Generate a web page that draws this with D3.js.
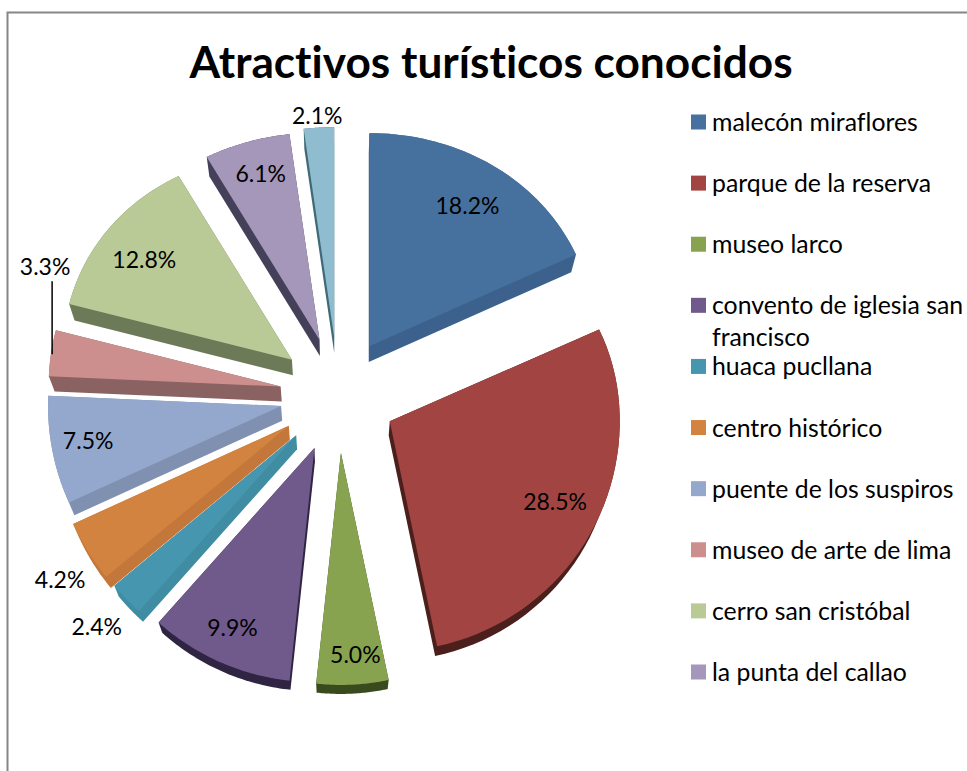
<!DOCTYPE html>
<html>
<head>
<meta charset="utf-8">
<script src="https://cdn.jsdelivr.net/npm/d3@7"></script>
<style>
  html, body { margin: 0; padding: 0; background: #fff; }
  svg { display: block; }
  text { font-family: Lato, "Open Sans", sans-serif; fill: #000; font-variant-ligatures: none; }
</style>
</head>
<body>
<div id="graph"></div>
<script>
// chart data
var categories = ["malecón miraflores", "parque de la reserva", "museo larco", "convento de iglesia san|francisco",
  "huaca pucllana", "centro histórico", "puente de los suspiros", "museo de arte de lima",
  "cerro san cristóbal", "la punta del callao"];
var values = [18.2, 28.5, 5.0, 9.9, 2.4, 4.2, 7.5, 3.3, 12.8, 6.1, 2.1];

var colors = ["#46719f", "#a24542", "#87a34f", "#705a8c", "#4596ae", "#d2833f", "#93a8cc", "#cc8f8d", "#b9ca96", "#a597b9", "#8fbccf"];
var walls  = ["#3c618c", "#4a1f1c", "#3a4a1f", "#2f2442", "#3f8ca3", "#c4773a", "#8090b0", "#8b6262", "#6d7a57", "#45405a", "#3f6a78"];

// the 3d pie is not a true circle, so each slice has its own size and back tilt
var radii = [227, 230, 232, 234, 236, 237, 233, 232, 230, 229, 232];
var tilts = [0.00027, 0.00041, 0.00041, 0.00041, 0.00041, 0.00041, 0.00041, 0.00041, 0.00041, 0.00041, 0.00041];

// distance of each label from the slice tip, and how far it is turned off the slice middle
var labelRadius = [171, 184, 203, 198, 277, 276, 196, 264, 178, 176, 222];
var labelTurn   = [2.25, -0.8, -1.2, 0.5, 0, -2, 0.8, 18.4, -3.5, -1, -0.6];

var width = 967, height = 771;
var cx = 338, cy = 395, explode = 58;

var svg = d3.select("#graph")
  .append("svg")
    .attr("width", width)
    .attr("height", height);

// chart frame, cut by the picture on the right and at the bottom
svg.append("path")
    .attr("d", "M7.5," + height + "V12.5H" + width)
    .attr("fill", "none")
    .attr("stroke", "#868686")
    .attr("stroke-width", 2);

svg.append("text")
    .attr("x", 491)
    .attr("y", 78)
    .attr("text-anchor", "middle")
    .attr("font-size", 44.2)
    .attr("font-weight", 700)
    .text("Atractivos turísticos conocidos");

var arcs = d3.pie().sort(null).value(function(d) { return d; })(values);

// the lower face shrinks towards a point far below the pie
function lower(p) {
  return [cx + (p[0] - cx) * 0.98, 1135 + (p[1] - 1135) * 0.98];
}

function outline(d, i) {
  var mid = (d.startAngle + d.endAngle) / 2;
  var tip = d3.pointRadial(mid, explode);
  var top = [[cx + tip[0], cy + tip[1]]];
  d3.range(0, 41).forEach(function(k) {
    var a = d.startAngle + (d.endAngle - d.startAngle) * k / 40;
    var p = d3.pointRadial(a, radii[i]);
    // back part of the pie looks smaller
    var y = p[1] < 0 ? p[1] * (1 + tilts[i] * p[1]) : p[1];
    top.push([cx + tip[0] + p[0], cy + tip[1] + y]);
  });
  return top;
}

var line = d3.line().curve(d3.curveLinearClosed);

var slices = svg.append("g")
  .selectAll("g")
  .data(arcs)
  .enter()
  .append("g");

slices.append("path")
    .attr("d", function(d, i) {
      var top = outline(d, i);
      return line(d3.polygonHull(top.concat(top.map(lower))));
    })
    .style("fill", function(d, i) { return walls[i]; });

slices.append("path")
    .attr("d", function(d, i) { return line(outline(d, i)); })
    .style("fill", function(d, i) { return colors[i]; });

function labelPoint(d, i) {
  var mid = (d.startAngle + d.endAngle) / 2;
  var tip = d3.pointRadial(mid, explode);
  var p = d3.pointRadial(mid + labelTurn[i] * Math.PI / 180, labelRadius[i]);
  return [cx + tip[0] + p[0], cy + tip[1] + p[1]];
}

// leader line of the 3.3% label
var leader = labelPoint(arcs[7], 7);
svg.append("line")
    .attr("x1", leader[0] + 7).attr("y1", leader[1] + 14)
    .attr("x2", leader[0] + 7).attr("y2", leader[1] + 87)
    .attr("stroke", "#000")
    .attr("stroke-width", 1.5);

svg.append("g")
  .selectAll("text")
  .data(arcs)
  .enter()
  .append("text")
    .attr("x", function(d, i) { return labelPoint(d, i)[0]; })
    .attr("y", function(d, i) { return labelPoint(d, i)[1]; })
    .attr("dy", "0.35em")
    .attr("text-anchor", "middle")
    .attr("font-size", 23)
    .text(function(d) { return d.value.toFixed(1) + "%"; });

// legend
var legendY = d3.scaleLinear().domain([0, 9]).range([122, 672]);
var legend = svg.append("g")
  .selectAll("g")
  .data(categories)
  .enter()
  .append("g")
    .attr("transform", function(d, i) { return "translate(691," + legendY(i) + ")"; });

legend.append("rect")
    .attr("y", -7.5)
    .attr("width", 15)
    .attr("height", 15)
    .style("fill", function(d, i) { return colors[i]; });

legend.append("text")
    .attr("x", 21)
    .attr("font-size", 24.8)
    .selectAll("tspan")
    .data(function(d) { return d.split("|"); })
    .enter()
    .append("tspan")
      .attr("x", 21)
      .attr("y", function(d, i) { return 9 + i * 32; })
      .text(function(d) { return d; });
</script>
</body>
</html>
